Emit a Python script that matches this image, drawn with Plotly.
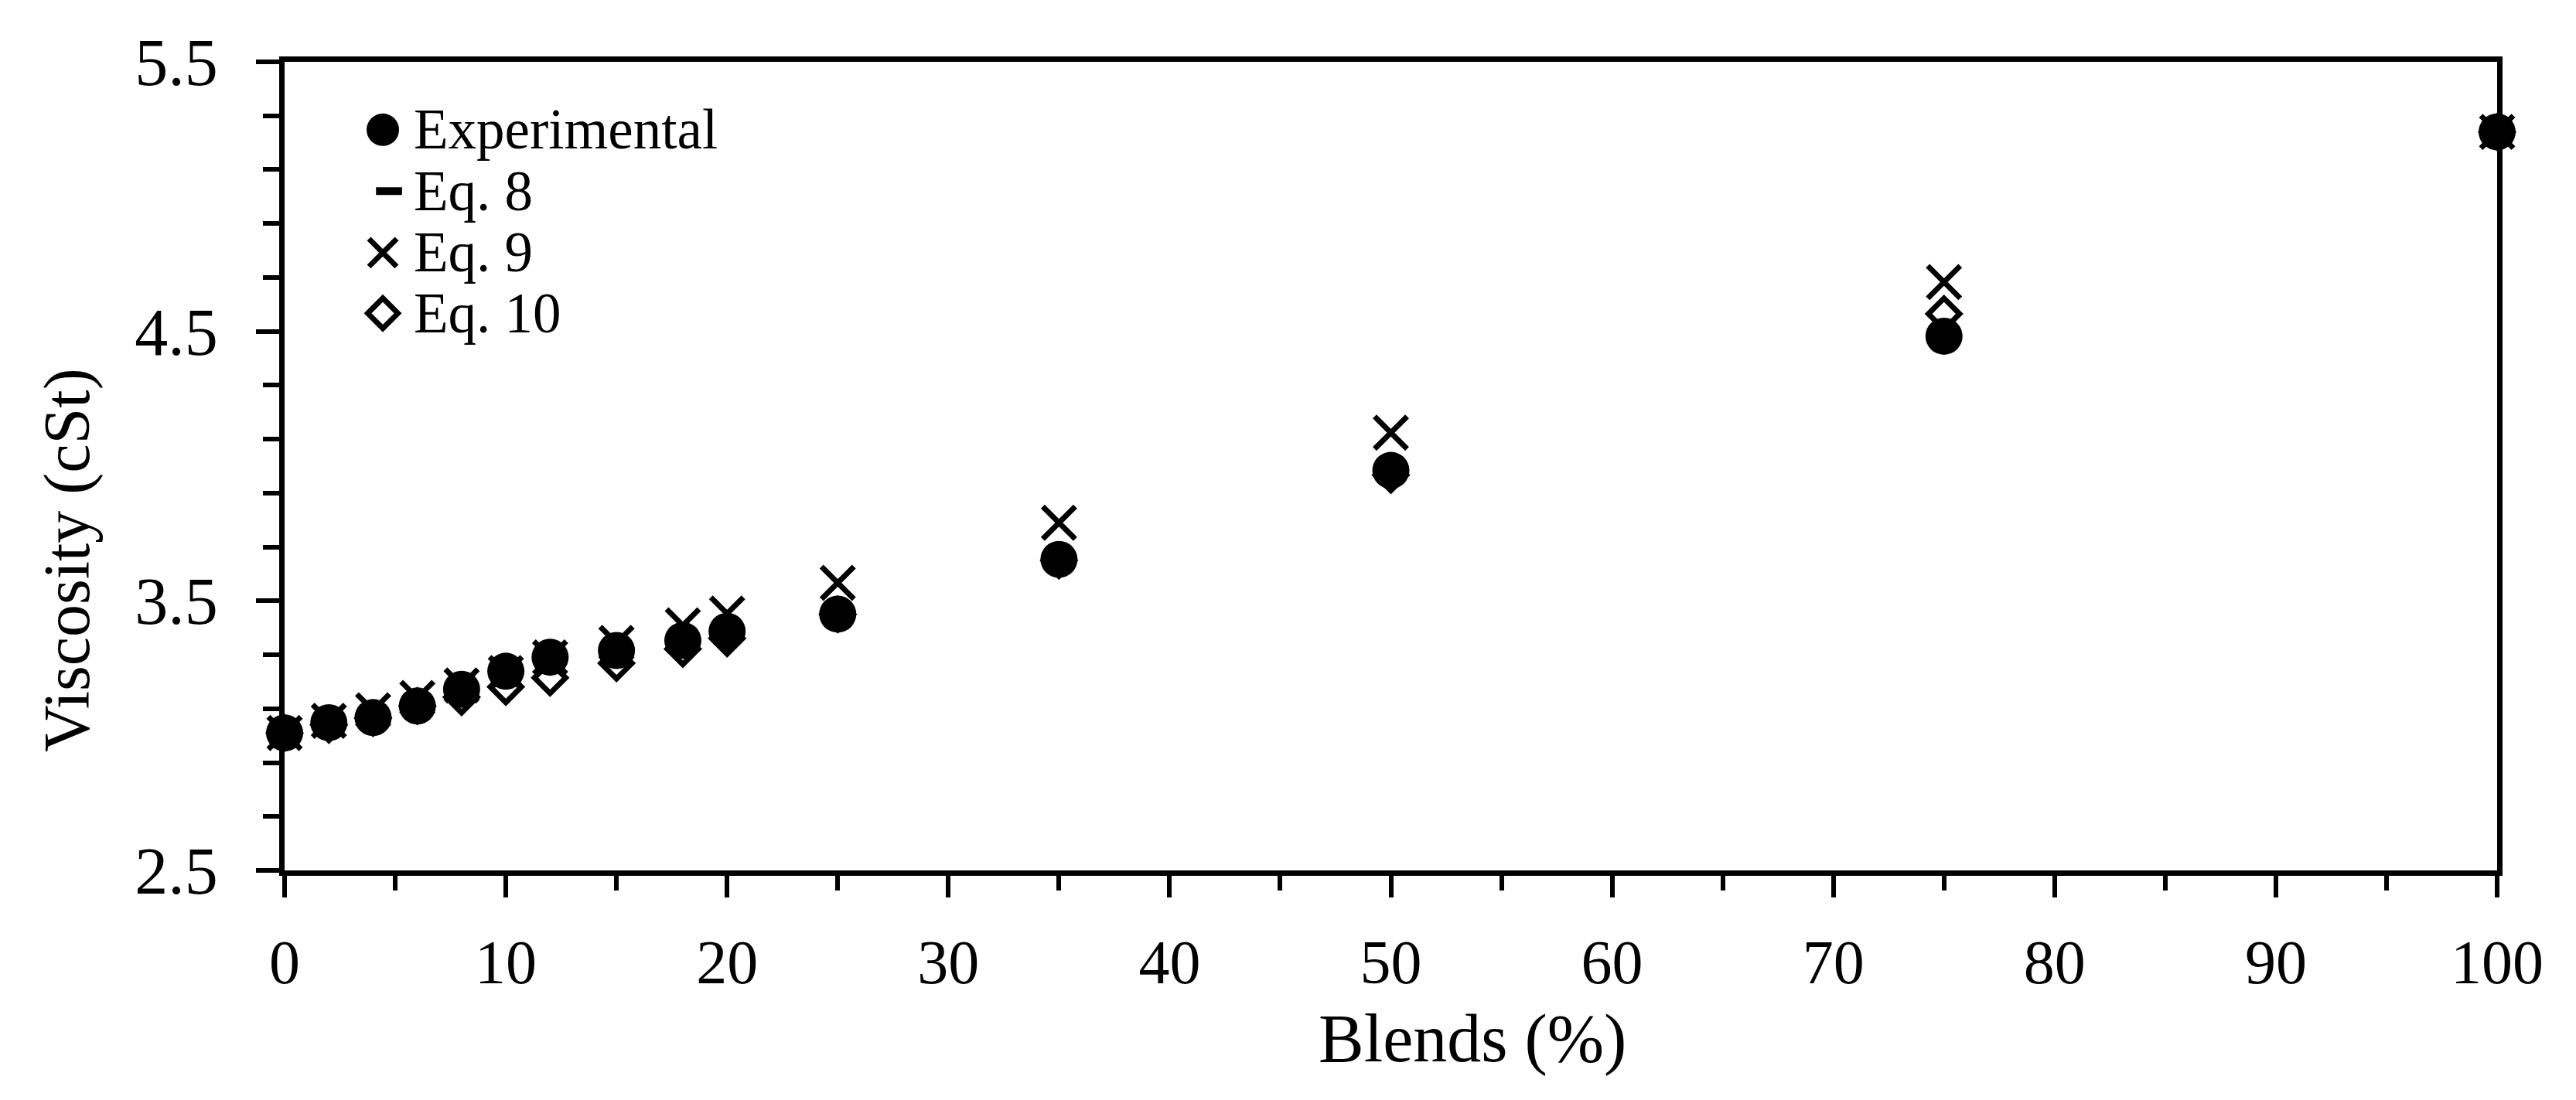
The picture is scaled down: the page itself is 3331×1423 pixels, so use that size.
import plotly.graph_objects as go

# Blend percentages and viscosities (cSt)
blends = [0, 2, 4, 6, 8, 10, 12, 15, 18, 20, 25, 35, 50, 75, 100]
experimental = [3.010, 3.048, 3.067, 3.110, 3.172, 3.239, 3.291, 3.316, 3.353, 3.387, 3.451, 3.654, 3.984, 4.482, 5.240]
eq8 = [3.01, 3.05, 3.07, 3.11, 3.16, 3.21, 3.26, 3.31, 3.36, 3.39, 3.47, 3.67, 3.99, 4.50, 5.24]
eq9 = [3.010, 3.055, 3.094, 3.140, 3.186, 3.232, 3.290, 3.344, 3.409, 3.453, 3.567, 3.790, 4.124, 4.683, 5.240]
eq10 = [3.010, 3.040, 3.065, 3.110, 3.143, 3.181, 3.215, 3.269, 3.322, 3.361, 3.450, 3.650, 3.967, 4.565, 5.240]

series_names = ["Experimental", "Eq. 8", "Eq. 9", "Eq. 10"]
x_ticks = [0, 10, 20, 30, 40, 50, 60, 70, 80, 90, 100]
y_ticks = [2.5, 3.5, 4.5, 5.5]

FONT = "Liberation Serif"
BLACK = "black"

fig = go.Figure()

# Order of drawing: models underneath, experimental circles on top
fig.add_trace(go.Scatter(
    x=blends, y=eq8, mode="markers", name="Eq. 8", cliponaxis=False,
    marker=dict(symbol="line-ew", size=22, color=BLACK, line=dict(color=BLACK, width=8)),
))
fig.add_trace(go.Scatter(
    x=blends, y=eq9, mode="markers", name="Eq. 9", cliponaxis=False,
    marker=dict(symbol="x-thin", size=42, color=BLACK, line=dict(color=BLACK, width=7)),
))
fig.add_trace(go.Scatter(
    x=blends, y=eq10, mode="markers", name="Eq. 10", cliponaxis=False,
    marker=dict(symbol="diamond-open", size=31, color=BLACK, line=dict(color=BLACK, width=7)),
))
fig.add_trace(go.Scatter(
    x=blends, y=experimental, mode="markers", name="Experimental", cliponaxis=False,
    marker=dict(symbol="circle", size=48, color=BLACK, line=dict(width=0)),
))

# Hand-made legend (plotly caps legend symbol size), drawn on an overlay axis in plot fractions
legend_x = [0.0444, 0.0472, 0.0444, 0.0444]
legend_y = [0.916, 0.840, 0.764, 0.689]
legend_symbols = ["circle", "line-ew", "x-thin", "diamond-open"]
legend_sizes = [42, 24, 36, 30]
legend_widths = [0, 10, 7, 7]
for lx, ly, sym, sz, lw in zip(legend_x, legend_y, legend_symbols, legend_sizes, legend_widths):
    fig.add_trace(go.Scatter(
        x=[lx], y=[ly], mode="markers", xaxis="x2", yaxis="y2", showlegend=False,
        hoverinfo="skip", cliponaxis=False,
        marker=dict(symbol=sym, size=sz, color=BLACK, line=dict(color=BLACK, width=lw)),
    ))
for name, ly in zip(series_names, legend_y):
    fig.add_annotation(
        x=0.0577, y=ly, xref="paper", yref="paper", text=name, showarrow=False,
        xanchor="left", yanchor="middle", font=dict(family=FONT, size=73, color=BLACK),
    )

# Axis titles sit off-centre in the original, so place them as annotations
fig.add_annotation(
    x=0.537, y=-0.208, xref="paper", yref="paper", text="Blends (%)", showarrow=False,
    xanchor="center", yanchor="middle", font=dict(family=FONT, size=88, color=BLACK),
)
fig.add_annotation(
    x=-0.098, y=0.384, xref="paper", yref="paper", text="Viscosity (cSt)", showarrow=False,
    textangle=-90, xanchor="center", yanchor="middle", font=dict(family=FONT, size=84, color=BLACK),
)

fig.update_layout(
    width=3331,
    height=1423,
    margin=dict(l=360, r=110, t=72, b=305),
    paper_bgcolor="white",
    plot_bgcolor="white",
    showlegend=False,
    font=dict(family=FONT, color=BLACK),
    xaxis=dict(
        range=[0, 100],
        tickmode="array", tickvals=x_ticks,
        ticks="outside", ticklen=28, tickwidth=6, tickcolor=BLACK,
        minor=dict(dtick=5, tick0=0, ticks="outside", ticklen=19, tickwidth=6, tickcolor=BLACK),
        showline=True, linewidth=7, linecolor=BLACK, mirror=True,
        showgrid=False, zeroline=False,
        tickfont=dict(family=FONT, size=80, color=BLACK),
        ticklabelstandoff=15,
    ),
    yaxis=dict(
        range=[2.5, 5.5],
        tickmode="array", tickvals=y_ticks, tickformat=".1f",
        ticks="outside", ticklen=30, tickwidth=6, tickcolor=BLACK,
        minor=dict(dtick=0.2, tick0=2.5, ticks="outside", ticklen=21, tickwidth=6, tickcolor=BLACK),
        showline=True, linewidth=7, linecolor=BLACK, mirror=True,
        showgrid=False, zeroline=False,
        tickfont=dict(family=FONT, size=86, color=BLACK),
        ticklabelstandoff=32,
    ),
    xaxis2=dict(overlaying="x", range=[0, 1], visible=False, fixedrange=True),
    yaxis2=dict(overlaying="y", range=[0, 1], visible=False, fixedrange=True),
)

fig.write_html("out.html")
